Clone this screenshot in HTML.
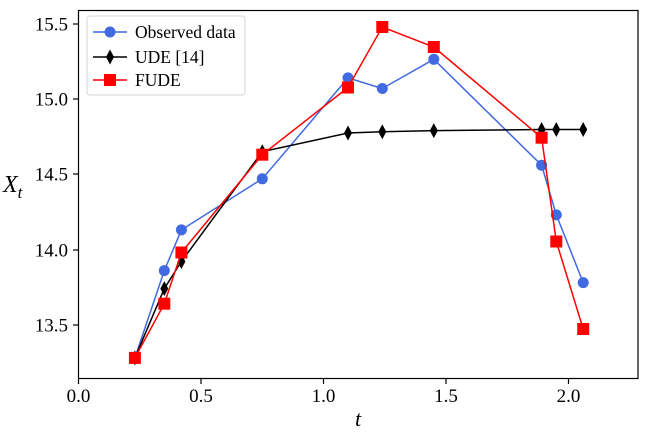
<!DOCTYPE html>
<html><head><meta charset="utf-8"><style>body{margin:0;background:#fff}svg text{font-family:"Liberation Serif",serif}</style></head><body>
<svg width="647" height="432" xmlns="http://www.w3.org/2000/svg" font-family="'Liberation Serif', serif">
<rect width="647" height="432" fill="#fff"/>
<g stroke="#000" stroke-width="1.2">
<line x1="78.5" y1="379" x2="78.5" y2="384"/><line x1="201" y1="379" x2="201" y2="384"/><line x1="323.5" y1="379" x2="323.5" y2="384"/><line x1="446" y1="379" x2="446" y2="384"/><line x1="568.5" y1="379" x2="568.5" y2="384"/>
<line x1="73" y1="24" x2="78" y2="24"/><line x1="73" y1="99" x2="78" y2="99"/><line x1="73" y1="174" x2="78" y2="174"/><line x1="73" y1="250" x2="78" y2="250"/><line x1="73" y1="325" x2="78" y2="325"/>
</g>
<g font-size="19" text-anchor="middle" fill="#000">
<text x="78.5" y="402">0.0</text><text x="201" y="402">0.5</text><text x="323.5" y="402">1.0</text><text x="446" y="402">1.5</text><text x="568.5" y="402">2.0</text>
</g>
<g font-size="19" text-anchor="end" fill="#000">
<text x="68" y="30.5">15.5</text><text x="68" y="105.5">15.0</text><text x="68" y="180.5">14.5</text><text x="68" y="256.5">14.0</text><text x="68" y="331.5">13.5</text>
</g>
<text x="358" y="426" font-size="22" font-style="italic" text-anchor="middle">t</text>
<text x="3" y="192" font-size="24" font-style="italic">X<tspan font-size="17" dy="6">t</tspan></text>

<polyline fill="none" stroke="#4169e1" stroke-width="1.5" points="134.9,357.9 164.3,270.6 181.4,229.9 262.3,178.8 348,77.9 382.3,88.5 433.8,59.3 541.6,165.2 556.3,214.9 583.2,282.6"/>
<g fill="#4169e1">
<circle cx="134.9" cy="357.9" r="5.5"/><circle cx="164.3" cy="270.6" r="5.5"/><circle cx="181.4" cy="229.9" r="5.5"/><circle cx="262.3" cy="178.8" r="5.5"/><circle cx="348" cy="77.9" r="5.5"/><circle cx="382.3" cy="88.5" r="5.5"/><circle cx="433.8" cy="59.3" r="5.5"/><circle cx="541.6" cy="165.2" r="5.5"/><circle cx="556.3" cy="214.9" r="5.5"/><circle cx="583.2" cy="282.6" r="5.5"/>
</g>
<polyline fill="none" stroke="#000" stroke-width="1.5" points="134.9,357.9 164.3,288.6 181.4,261.5 262.3,151.7 348,133 382.3,131.8 433.8,130.6 541.6,129.5 556.3,129.5 583.2,129.5"/>
<g fill="#000">
<path d="M0,-7.5 L4,0 L0,7.5 L-4,0 Z" transform="translate(134.9,357.9)"/>
<path d="M0,-7.5 L4,0 L0,7.5 L-4,0 Z" transform="translate(164.3,288.6)"/>
<path d="M0,-7.5 L4,0 L0,7.5 L-4,0 Z" transform="translate(181.4,261.5)"/>
<path d="M0,-7.5 L4,0 L0,7.5 L-4,0 Z" transform="translate(262.3,151.7)"/>
<path d="M0,-7.5 L4,0 L0,7.5 L-4,0 Z" transform="translate(348,133)"/>
<path d="M0,-7.5 L4,0 L0,7.5 L-4,0 Z" transform="translate(382.3,131.8)"/>
<path d="M0,-7.5 L4,0 L0,7.5 L-4,0 Z" transform="translate(433.8,130.6)"/>
<path d="M0,-7.5 L4,0 L0,7.5 L-4,0 Z" transform="translate(541.6,129.5)"/>
<path d="M0,-7.5 L4,0 L0,7.5 L-4,0 Z" transform="translate(556.3,129.5)"/>
<path d="M0,-7.5 L4,0 L0,7.5 L-4,0 Z" transform="translate(583.2,129.5)"/>
</g>
<polyline fill="none" stroke="#f00" stroke-width="1.5" points="134.9,357.9 164.3,303.7 181.4,252.5 262.3,154.7 348,87.5 382.3,27 433.8,47 541.6,137.7 556.3,241.5 583.2,329"/>
<g fill="#f00">
<rect x="128.9" y="351.9" width="12" height="12"/><rect x="158.3" y="297.7" width="12" height="12"/><rect x="175.4" y="246.5" width="12" height="12"/><rect x="256.3" y="148.7" width="12" height="12"/><rect x="342" y="81.5" width="12" height="12"/><rect x="376.3" y="21" width="12" height="12"/><rect x="427.8" y="41" width="12" height="12"/><rect x="535.6" y="131.7" width="12" height="12"/><rect x="550.3" y="235.5" width="12" height="12"/><rect x="577.2" y="323" width="12" height="12"/>
</g>
<rect x="78.5" y="10.5" width="559.5" height="368" fill="none" stroke="#000" stroke-width="1.2"/>
<rect x="87" y="16" width="158" height="79" rx="3" fill="#fff" fill-opacity="0.8" stroke="#d6d6d6" stroke-width="1"/>
<line x1="93" y1="32" x2="127" y2="32" stroke="#4169e1" stroke-width="1.5"/><circle cx="110" cy="32" r="5.5" fill="#4169e1"/>
<line x1="93" y1="57" x2="127" y2="57" stroke="#000" stroke-width="1.5"/><path d="M110,49.5 L114,57 L110,64.5 L106,57 Z" fill="#000"/>
<line x1="93" y1="80" x2="127" y2="80" stroke="#f00" stroke-width="1.5"/><rect x="104" y="74" width="12" height="12" fill="#f00"/>
<g font-size="17.5" fill="#000"><text x="135" y="38">Observed data</text><text x="135" y="63">UDE [14]</text><text x="135" y="86">FUDE</text></g>
</svg>
</body></html>
